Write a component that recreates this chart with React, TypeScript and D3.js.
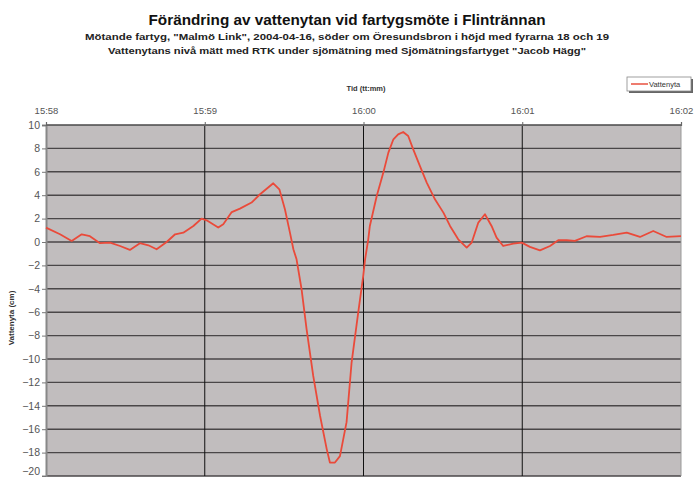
import React, { useEffect, useRef } from "react";
import * as d3 from "d3";

// seconds after 15:58:00
const timeSec = [
  0, 5.3, 9.7, 13.5, 16.6, 20.4, 24.2, 28, 31.7, 35.5, 38.7, 41.8, 45.6, 48.8, 51.9, 55.7,
  58.8, 60.7, 65.1, 67, 70.2, 73.3, 77.7, 80.9, 85.9, 88.2, 90.3, 92.2, 93.5, 94.7, 96.6,
  98.5, 101, 103.6, 106.1, 107.3, 109.2, 111.1, 113.6, 115.5, 118, 119.9, 120.6, 121.8,
  122.4, 125, 127.5, 129.4, 131.3, 133.1, 135, 136.9, 138.8, 141.3, 143.9, 147, 150.2,
  152.7, 155.8, 159, 160.9, 163.4, 165.9, 168.4, 170.3, 172.8, 176.6, 179.8, 182.9,
  186.7, 190.5, 193.6, 196.8, 199.9, 204.3, 209.4, 214.4, 219.5, 224.5, 229.5, 234.6, 240,
];

// vattenyta (cm)
const vattenyta = [
  1.23, 0.66, 0.09, 0.66, 0.5, -0.1, -0.05, -0.34, -0.68, -0.1, -0.28, -0.62, 0, 0.66, 0.8,
  1.37, 2.0, 1.85, 1.23, 1.51, 2.56, 2.85, 3.37, 4.08, 5.02, 4.5, 2.8, 0.8, -0.62, -1.48,
  -4.04, -7.46, -11.45, -14.87, -17.7, -18.85, -18.85, -18.3, -15.4, -10.3, -6.03, -2.9,
  -1.48, 0.23, 1.37, 3.93, 5.93, 7.64, 8.78, 9.2, 9.4, 9.06, 7.92, 6.5, 5.08, 3.65, 2.51,
  1.37, 0.23, -0.48, -0.05, 1.66, 2.37, 1.37, 0.37, -0.34, -0.14, -0.05, -0.42, -0.71,
  -0.34, 0.15, 0.15, 0.09, 0.49, 0.43, 0.6, 0.8, 0.43, 0.94, 0.43, 0.51,
];

const xTickSec = [0, 60, 120, 180, 240];
const xTickLabels = ["15:58", "15:59", "16:00", "16:01", "16:02"];
const yTicks = [10, 8, 6, 4, 2, 0, -2, -4, -6, -8, -10, -12, -14, -16, -18, -20];

const titleText = "Förändring av vattenytan vid fartygsmöte i Flintrännan";
const subtitle1 =
  "Mötande fartyg, \"Malmö Link\", 2004-04-16, söder om Öresundsbron i höjd med fyrarna 18 och 19";
const subtitle2 =
  "Vattenytans nivå mätt med RTK under sjömätning med Sjömätningsfartyget \"Jacob Hägg\"";

const App = () => {
  const svgRef = useRef<SVGSVGElement>(null);

  useEffect(() => {
    const width = 694;
    const height = 477;
    const left = 46, right = 681, top = 125, bottom = 476;
    const font = "'Liberation Sans', Arial, sans-serif";

    const x = d3.scaleLinear().domain([0, 240]).range([left, right]);
    const y = d3.scaleLinear().domain([-20, 10]).range([bottom, top]);

    const svg = d3.select(svgRef.current).attr("width", width).attr("height", height);
    svg.selectAll("*").remove();

    svg.append("rect").attr("width", width).attr("height", height).attr("fill", "#ffffff");

    // titles
    svg.append("text").attr("x", 347).attr("y", 25).attr("text-anchor", "middle")
      .attr("font-family", font).attr("font-size", 15).attr("font-weight", "bold")
      .attr("fill", "#111")
      .attr("textLength", 397).attr("lengthAdjust", "spacingAndGlyphs")
      .text(titleText);
    svg.append("text").attr("x", 347).attr("y", 40).attr("text-anchor", "middle")
      .attr("font-family", font).attr("font-size", 9).attr("font-weight", "bold")
      .attr("fill", "#222")
      .attr("textLength", 524).attr("lengthAdjust", "spacingAndGlyphs")
      .text(subtitle1);
    svg.append("text").attr("x", 347).attr("y", 54).attr("text-anchor", "middle")
      .attr("font-family", font).attr("font-size", 9).attr("font-weight", "bold")
      .attr("fill", "#222")
      .attr("textLength", 478).attr("lengthAdjust", "spacingAndGlyphs")
      .text(subtitle2);

    // legend
    const lg = svg.append("g");
    lg.append("rect").attr("x", 629).attr("y", 79).attr("width", 64).attr("height", 14)
      .attr("fill", "#666");
    lg.append("rect").attr("x", 627).attr("y", 77).attr("width", 64).attr("height", 14)
      .attr("fill", "#fff").attr("stroke", "#888").attr("stroke-width", 0.8);
    lg.append("line").attr("x1", 631).attr("x2", 648).attr("y1", 84).attr("y2", 84)
      .attr("stroke", "#e8503f").attr("stroke-width", 1.5);
    lg.append("text").attr("x", 649).attr("y", 87).attr("font-family", font)
      .attr("font-size", 7.5).attr("fill", "#333").text("Vattenyta");

    // plot area
    svg.append("rect").attr("x", left).attr("y", top)
      .attr("width", right - left).attr("height", bottom - top)
      .attr("fill", "#c1bdbe");

    // horizontal grid
    svg.append("g").selectAll("line").data(yTicks).join("line")
      .attr("x1", left).attr("x2", right)
      .attr("y1", d => y(d)).attr("y2", d => y(d))
      .attr("stroke", "#4a4748").attr("stroke-width", 1.4);

    // vertical minute lines
    svg.append("g").selectAll("line").data(xTickSec.slice(1, -1)).join("line")
      .attr("x1", d => x(d)).attr("x2", d => x(d))
      .attr("y1", top).attr("y2", bottom)
      .attr("stroke", "#111").attr("stroke-width", 1);

    // y axis
    const yAxis = svg.append("g").attr("transform", `translate(${left},0)`)
      .call(d3.axisLeft(y).tickValues(yTicks).tickSize(4).tickFormat(d3.format("d")));
    yAxis.select(".domain").attr("stroke", "#888").attr("stroke-width", 2);
    yAxis.selectAll(".tick line").attr("stroke", "#777");
    yAxis.selectAll(".tick text").attr("font-family", font).attr("font-size", 10.5)
      .attr("fill", "#555").attr("x", -6)
      .attr("dy", (d: any) => (d === -20 ? "-0.1em" : "0.32em"));

    svg.append("line").attr("x1", right).attr("x2", right).attr("y1", top).attr("y2", bottom)
      .attr("stroke", "#999").attr("stroke-width", 1);

    // x axis on top
    const xAxis = svg.append("g").attr("transform", `translate(0,${top})`)
      .call(d3.axisTop(x).tickValues(xTickSec).tickSize(3)
        .tickFormat((d, i) => xTickLabels[i]));
    xAxis.select(".domain").attr("stroke", "#666").attr("stroke-width", 1.2);
    xAxis.selectAll(".tick line").attr("stroke", "#666");
    xAxis.selectAll(".tick text").attr("font-family", font).attr("font-size", 9.5)
      .attr("fill", "#555").attr("y", -11);

    svg.append("text").attr("x", 366).attr("y", 91).attr("text-anchor", "middle")
      .attr("font-family", font).attr("font-size", 7.5).attr("font-weight", "bold")
      .attr("fill", "#333").text("Tid (tt:mm)");

    svg.append("text").attr("transform", "translate(14,318) rotate(-90)")
      .attr("text-anchor", "middle").attr("font-family", font).attr("font-size", 8)
      .attr("font-weight", "bold").attr("fill", "#333").text("Vattenyta (cm)");

    // series
    const line = d3.line<number>()
      .x((d, i) => x(timeSec[i]))
      .y(d => y(d));

    svg.append("path").datum(vattenyta)
      .attr("fill", "none")
      .attr("stroke", "#ea4a3a")
      .attr("stroke-width", 1.8)
      .attr("stroke-linejoin", "round")
      .attr("d", line);
  }, []);

  return (
    <svg ref={svgRef} style={{ position: "absolute", left: 0, top: 0 }}></svg>
  );
};

export default App;
